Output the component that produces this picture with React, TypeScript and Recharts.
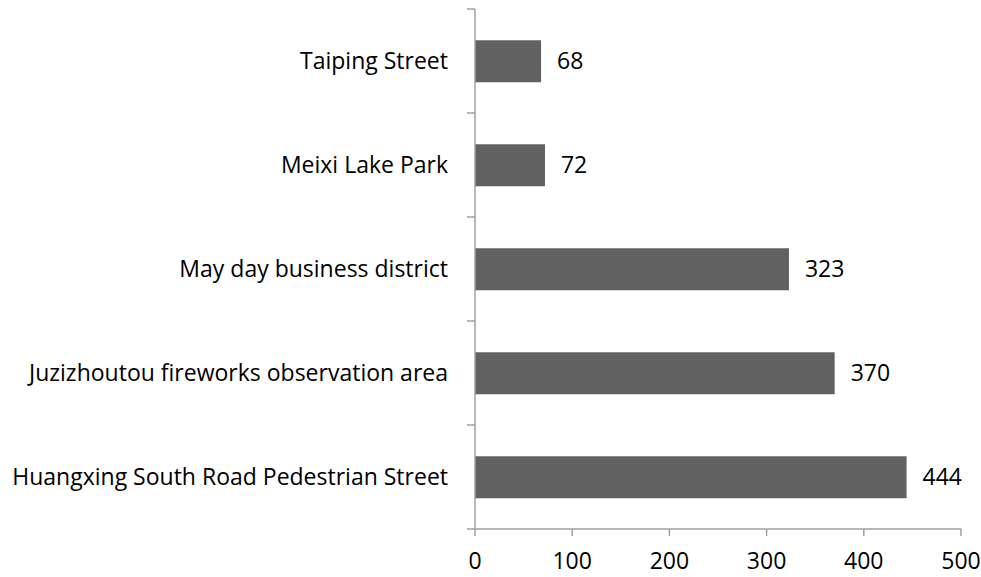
import { BarChart, Bar, XAxis, YAxis, LabelList } from "recharts";

const places = [
  "Taiping Street",
  "Meixi Lake Park",
  "May day business district",
  "Juzizhoutou fireworks observation area",
  "Huangxing South Road Pedestrian Street",
];
const counts = [68, 72, 323, 370, 444];
const xTicks = [0, 100, 200, 300, 400, 500];

const data = places.map((name, i) => ({ name, value: counts[i] }));

const FONT = "'Open Sans', sans-serif";
const FS = 23;
const AXIS = "#a0a0a0";
const BAR = "#616161";

// category label plus tick marks on the band edges (Excel style)
function PlaceTick(props: any) {
  const { x, y, payload, index } = props;
  const half = payload?.offset ?? 52;
  const ax = x + 8;
  return (
    <g>
      <line x1={ax - 8} x2={ax} y1={y - half} y2={y - half} stroke={AXIS} strokeWidth={1.5} />
      {index === places.length - 1 && (
        <line x1={ax - 8} x2={ax} y1={y + half} y2={y + half} stroke={AXIS} strokeWidth={1.5} />
      )}
      <text x={ax - 27} y={y} dy={8} textAnchor="end" fill="#000" fontSize={FS} fontFamily={FONT}>
        {payload.value}
      </text>
    </g>
  );
}

export default function App() {
  return (
    <div style={{ position: "absolute", left: 0, top: 0, background: "#fff" }}>
      <BarChart
        width={981}
        height={577}
        data={data}
        layout="vertical"
        margin={{ top: 9, right: 20, left: 0, bottom: 0 }}
        barCategoryGap="30%"
      >
        <XAxis
          type="number"
          domain={[0, 500]}
          ticks={xTicks}
          interval={0}
          height={48}
          stroke={AXIS}
          strokeWidth={1.5}
          tickSize={7}
          tickMargin={17}
          tick={{ fill: "#000", fontSize: FS, fontFamily: FONT }}
        />
        <YAxis
          type="category"
          dataKey="name"
          width={475}
          interval={0}
          tickLine={false}
          stroke={AXIS}
          strokeWidth={1.5}
          tick={<PlaceTick />}
        />
        <Bar dataKey="value" fill={BAR} isAnimationActive={false}>
          <LabelList
            dataKey="value"
            position="right"
            offset={16}
            fill="#000"
            fontSize={FS}
            fontFamily={FONT}
          />
        </Bar>
      </BarChart>
    </div>
  );
}
